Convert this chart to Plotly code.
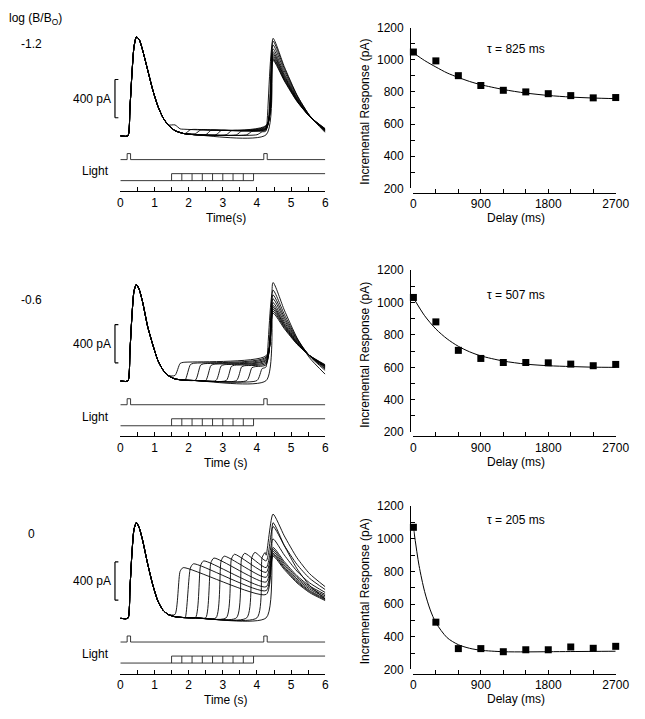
import plotly.graph_objects as go

W, H = 645, 719

# ---------------- data ----------------
DELAYS_MS = [0, 300, 600, 900, 1200, 1500, 1800, 2100, 2400, 2700]
TEST_TIME = 4.2                       # s, test flash
FLASH_TIMES = [0.2, 4.2]              # s, flash monitor pulses
FLASH_WIDTH = 0.1                     # s
STEP_ONSETS = [3.9, 3.6, 3.3, 3.0, 2.7, 2.4, 2.1, 1.8, 1.5]   # s, light-step onsets

TIME_TICKS = [0, 1, 2, 3, 4, 5, 6]
DELAY_TICKS = [0, 900, 1800, 2700]
RESP_TICKS = [200, 400, 600, 800, 1000, 1200]

LOG_LABELS = ["-1.2", "-0.6", "0"]
TAU_LABELS = ["\u03c4 = 825 ms", "\u03c4 = 507 ms", "\u03c4 = 205 ms"]
TIME_TITLES = ["Time(s)", "Time (s)", "Time (s)"]

# incremental response (pA) vs delay
INC_A = [1048, 993, 901, 840, 810, 800, 789, 777, 763, 765]
INC_B = [1032, 881, 705, 655, 630, 630, 628, 620, 610, 618]
INC_C = [1070, 489, 327, 327, 308, 320, 320, 337, 329, 341]

# fitted curves
FIT_A_X = [0, 150, 300, 450, 600, 750, 900, 1200, 1500, 1800, 2100, 2400, 2700]
FIT_A_Y = [1043, 995, 955, 918, 890, 865, 845, 815, 793, 778, 768, 762, 758]
FIT_B_X = [0, 150, 300, 450, 600, 750, 900, 1200, 1500, 1800, 2100, 2400, 2700]
FIT_B_Y = [1030, 919, 837, 776, 730, 696, 671, 639, 620, 610, 605, 601, 600]
FIT_C_X = [0, 75, 150, 225, 300, 450, 600, 750, 900, 1200, 1500, 1800, 2100, 2400, 2700]
FIT_C_Y = [1070, 837, 676, 564, 486, 394, 351, 329, 317, 308, 307, 308, 309, 310, 311]

# first-flash response (pA) at these times (s)
FLASH_T = [0, 0.22, 0.28, 0.34, 0.40, 0.47, 0.55, 0.65, 0.80, 0.95, 1.10, 1.25, 1.40, 1.60, 1.85, 2.20, 4.50]
FLASH_A = [0, 0, 280, 650, 930, 1035, 1010, 900, 690, 480, 310, 190, 115, 55, 25, 12, 12]
FLASH_B = [0, 0, 300, 680, 940, 1010, 960, 830, 570, 380, 215, 115, 58, 22, 10, 5, 5]
FLASH_C = [0, 0, 300, 680, 930, 1000, 950, 820, 570, 350, 180, 85, 40, 17, 8, 5, 5]

# per-trace values (ordered as DELAYS_MS), pA
STEP_PEAK_A = [0, 45, 50, 55, 58, 60, 62, 65, 68, 70]
PRE_A = [12, 55, 62, 70, 76, 82, 88, 95, 102, 110]
PEAK_A = [1020, 990, 950, 910, 880, 860, 840, 820, 805, 790]
END_A = [35, 45, 50, 55, 60, 62, 65, 68, 72, 75]

STEP_PEAK_B = [0, 140, 150, 160, 165, 170, 175, 180, 185, 195]
PRE_B = [5, 150, 170, 185, 200, 215, 225, 238, 250, 265]
PEAK_B = [1030, 950, 900, 860, 820, 790, 770, 750, 730, 710]
END_B = [70, 110, 125, 135, 145, 150, 155, 160, 165, 170]

STEP_PEAK_C = [0, 690, 690, 680, 670, 650, 630, 600, 570, 530]
PRE_C = [5, 660, 600, 530, 480, 430, 380, 330, 290, 250]
PEAK_C = [1000, 1090, 960, 830, 740, 720, 700, 680, 665, 650]
END_C = [200, 330, 300, 270, 250, 235, 220, 205, 195, 185]

# test-response decay: time after peak (s) and fraction of (peak - end)
DECAY_DT = [0.33, 0.70, 1.07]
DECAY_FRAC = [0.70, 0.40, 0.18]

# ---------------- layout constants (px / pA offsets) ----------------
FONT = "Liberation Sans, Arial, Helvetica, sans-serif"
LEFT_X0, LEFT_X1 = 120.5, 331.0
LEFT_AXIS_PX = [188.0, 438.0, 680.0]
PX_PER_PA = 0.0975
Y_BOTTOM, Y_TOP = -580, 1150
FLASH_LO, FLASH_HI = -248, -185
LIGHT_LO, LIGHT_HI = -468, -395
BAR_LO, BAR_HI = 190, 590

RIGHT_X0, RIGHT_X1 = 421.5, 629.3
RIGHT_YAXIS_PX = 418.3
RIGHT_DOM = [(185.0, 21.0), (433.5, 268.5), (675.5, 509.0)]
RIGHT_XLINE = [189.5, 438.0, 680.0]

LAT = 0.07


def px2x(p):
    return p / W


def px2y(p):
    return 1 - p / H


def build_trace(flash_v, delay_ms, step_pk, pre, peak, end):
    onset = TEST_TIME - delay_ms / 1000.0
    start = onset + 0.1 if delay_ms > 0 else TEST_TIME + LAT
    ts, vs = [], []
    for t, v in zip(FLASH_T, flash_v):
        if t < start:
            ts.append(t)
            vs.append(v)
    base = vs[-1]
    ts.append(start)
    vs.append(base)
    if delay_ms > 0:
        ts += [onset + 0.25, onset + 0.34, TEST_TIME + LAT]
        vs += [base + 0.92 * (step_pk - base), step_pk, pre]
    tp = TEST_TIME + 0.27
    ts.append(tp)
    vs.append(peak)
    for dt, fr in zip(DECAY_DT, DECAY_FRAC):
        ts.append(tp + dt)
        vs.append(end + fr * (peak - end))
    ts.append(6.0)
    vs.append(end)
    return ts, vs


panels = [
    dict(flash=FLASH_A, sp=STEP_PEAK_A, pre=PRE_A, pk=PEAK_A, end=END_A,
         inc=INC_A, fx=FIT_A_X, fy=FIT_A_Y),
    dict(flash=FLASH_B, sp=STEP_PEAK_B, pre=PRE_B, pk=PEAK_B, end=END_B,
         inc=INC_B, fx=FIT_B_X, fy=FIT_B_Y),
    dict(flash=FLASH_C, sp=STEP_PEAK_C, pre=PRE_C, pk=PEAK_C, end=END_C,
         inc=INC_C, fx=FIT_C_X, fy=FIT_C_Y),
]

fig = go.Figure()
layout = {}
shapes = []
annotations = []

tickfont = dict(family=FONT, size=12, color="black")

for i, p in enumerate(panels):
    nl = i + 1
    nr = i + 4
    xl = "x" if nl == 1 else f"x{nl}"
    yl = "y" if nl == 1 else f"y{nl}"
    xr, yr = f"x{nr}", f"y{nr}"

    # ---- left: current traces ----
    for k, d in enumerate(DELAYS_MS):
        ts, vs = build_trace(p["flash"], d, p["sp"][k], p["pre"][k], p["pk"][k], p["end"][k])
        fig.add_trace(go.Scatter(x=ts, y=vs, mode="lines", xaxis=xl, yaxis=yl,
                                 line=dict(color="black", width=0.9, shape="spline", smoothing=0.6),
                                 hoverinfo="skip"))
    # flash monitor
    fx, fyv = [0], [FLASH_LO]
    for ft in FLASH_TIMES:
        fx += [ft, ft, ft + FLASH_WIDTH, ft + FLASH_WIDTH]
        fyv += [FLASH_LO, FLASH_HI, FLASH_HI, FLASH_LO]
    fx.append(6)
    fyv.append(FLASH_LO)
    fig.add_trace(go.Scatter(x=fx, y=fyv, mode="lines", xaxis=xl, yaxis=yl,
                             line=dict(color="#222", width=0.9), hoverinfo="skip"))
    # light step monitor (superimposed steps: lower line, upper line, onsets)
    lx = [0, max(STEP_ONSETS), None, min(STEP_ONSETS), 6]
    ly = [LIGHT_LO, LIGHT_LO, None, LIGHT_HI, LIGHT_HI]
    for on in STEP_ONSETS:
        lx += [None, on, on]
        ly += [None, LIGHT_LO, LIGHT_HI]
    fig.add_trace(go.Scatter(x=lx, y=ly, mode="lines", xaxis=xl, yaxis=yl, connectgaps=False,
                             line=dict(color="#222", width=0.9), hoverinfo="skip"))

    axis_px = LEFT_AXIS_PX[i]
    top_px = axis_px - (Y_TOP - Y_BOTTOM) * PX_PER_PA
    layout["xaxis" if nl == 1 else f"xaxis{nl}"] = dict(
        domain=[px2x(LEFT_X0), px2x(LEFT_X1)], range=[0, 6], anchor=yl,
        showline=True, linecolor="black", linewidth=1.4,
        ticks="inside", ticklen=4, tickwidth=1.2, tickcolor="black",
        tickmode="array", tickvals=TIME_TICKS,
        minor=dict(ticks="inside", ticklen=4, tickwidth=1.2, tickcolor="black", dtick=0.5, tick0=0),
        showgrid=False, zeroline=False, tickfont=tickfont, ticklabelstandoff=0)
    layout["yaxis" if nl == 1 else f"yaxis{nl}"] = dict(
        domain=[px2y(axis_px), px2y(top_px)], range=[Y_BOTTOM, Y_TOP], anchor=xl,
        visible=False, showgrid=False, zeroline=False)

    # scale bar
    bx = px2x(115.0)
    bx2 = px2x(118.5)
    for (x0, x1, y0, y1) in [(bx, bx, BAR_LO, BAR_HI), (bx, bx2, BAR_HI, BAR_HI), (bx, bx2, BAR_LO, BAR_LO)]:
        shapes.append(dict(type="line", xref="paper", yref=yl, x0=x0, x1=x1, y0=y0, y1=y1,
                           line=dict(color="black", width=1.2)))
    annotations.append(dict(xref="paper", yref=yl, x=px2x(112.5), y=(BAR_LO + BAR_HI) / 2,
                            text="400 pA", showarrow=False, xanchor="right", yanchor="middle",
                            font=tickfont))
    annotations.append(dict(xref="paper", yref=yl, x=px2x(111.0), y=-372,
                            text="Light", showarrow=False, xanchor="right", yanchor="middle",
                            font=tickfont))
    # Time title
    annotations.append(dict(xref="paper", yref="paper", x=px2x(229), y=px2y(axis_px + 27),
                            text=TIME_TITLES[i], showarrow=False, xanchor="center", yanchor="middle",
                            font=tickfont))
    # log label
    log_y = [38, 299, 537][i]
    annotations.append(dict(xref="paper", yref="paper", x=px2x(29), y=px2y(log_y),
                            text=LOG_LABELS[i], showarrow=False, xanchor="center", yanchor="middle",
                            font=tickfont))

    # ---- right: incremental response ----
    fig.add_trace(go.Scatter(x=p["fx"], y=p["fy"], mode="lines", xaxis=xr, yaxis=yr,
                             line=dict(color="black", width=1, shape="spline", smoothing=0.8),
                             cliponaxis=False, hoverinfo="skip"))
    fig.add_trace(go.Scatter(x=DELAYS_MS, y=p["inc"], mode="markers", xaxis=xr, yaxis=yr,
                             marker=dict(symbol="square", size=7, color="black"),
                             cliponaxis=False, hoverinfo="skip"))
    dom_bot, dom_top = RIGHT_DOM[i]
    layout[f"xaxis{nr}"] = dict(
        domain=[px2x(RIGHT_X0), px2x(RIGHT_X1)], range=[0, 2700], anchor="free",
        position=px2y(RIGHT_XLINE[i]),
        showline=True, linecolor="black", linewidth=1.4,
        ticks="inside", ticklen=4, tickwidth=1.2, tickcolor="black",
        tickmode="array", tickvals=DELAY_TICKS,
        minor=dict(ticks="inside", ticklen=4, tickwidth=1.2, tickcolor="black", dtick=300, tick0=0),
        showgrid=False, zeroline=False, tickfont=tickfont, ticklabelstandoff=0)
    layout[f"yaxis{nr}"] = dict(
        domain=[px2y(dom_bot), px2y(dom_top)], range=[200, 1200], anchor="free",
        position=px2x(RIGHT_YAXIS_PX),
        showline=True, linecolor="black", linewidth=1.4,
        ticks="inside", ticklen=4, tickwidth=1.2, tickcolor="black",
        tickmode="array", tickvals=RESP_TICKS,
        minor=dict(ticks="inside", ticklen=4, tickwidth=1.2, tickcolor="black", dtick=100, tick0=0),
        showgrid=False, zeroline=False, tickfont=tickfont, ticklabelstandoff=4)
    annotations.append(dict(xref="paper", yref="paper", x=px2x(371.5), y=px2y((dom_bot + dom_top) / 2 + 4),
                            text="Incremental Response (pA)", textangle=-90, showarrow=False,
                            xanchor="center", yanchor="middle", font=tickfont))
    annotations.append(dict(xref="paper", yref="paper", x=px2x(527), y=px2y(RIGHT_XLINE[i] + 26),
                            text="Delay (ms)", showarrow=False, xanchor="center", yanchor="middle",
                            font=tickfont))
    tau_y = [42.7, 293.3, 523.3][i]
    annotations.append(dict(xref="paper", yref="paper", x=px2x(527), y=px2y(tau_y),
                            text=TAU_LABELS[i], showarrow=False, xanchor="center", yanchor="middle",
                            font=tickfont))

annotations.append(dict(xref="paper", yref="paper", x=px2x(4), y=px2y(12),
                        text="log (B/B<sub>O</sub>)", showarrow=False, xanchor="left", yanchor="middle",
                        font=tickfont))

fig.update_layout(width=W, height=H, margin=dict(l=0, r=0, t=0, b=0),
                  paper_bgcolor="white", plot_bgcolor="white", showlegend=False,
                  font=dict(family=FONT, size=12, color="black"),
                  shapes=shapes, annotations=annotations, **layout)

fig.write_html("out.html", config={"displayModeBar": False},
               post_script="document.body.style.margin='0';document.body.style.padding='0';"
                           "document.body.style.overflow='hidden';")
